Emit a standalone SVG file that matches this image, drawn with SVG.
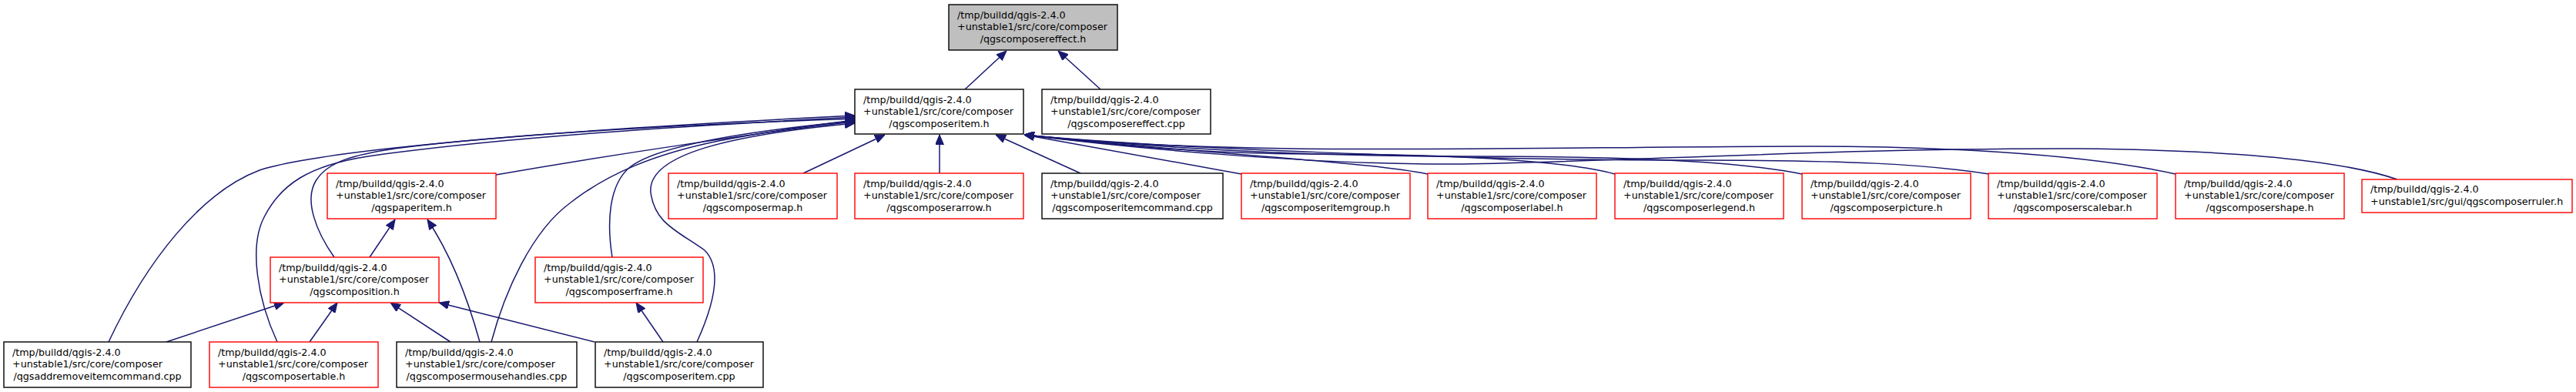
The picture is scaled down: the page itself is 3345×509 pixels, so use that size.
<svg xmlns="http://www.w3.org/2000/svg" width="3345" height="509" viewBox="0 0 3345 509">
<style>
.nb{fill:#fff;stroke:#000;stroke-width:1.4}
.nr{fill:#fff;stroke:#ff0000;stroke-width:1.4}
.ng{fill:#bfbfbf;stroke:#000;stroke-width:1.4}
text{font-family:"DejaVu Sans","Liberation Sans",sans-serif;font-size:12.7px;fill:#000}
.c{text-anchor:middle}
.e{fill:none;stroke:#191970;stroke-width:1.5}
</style>
<defs>
<marker id="ah" markerUnits="userSpaceOnUse" viewBox="0 0 13 11" refX="13" refY="5.5" markerWidth="13" markerHeight="11" orient="auto">
<path d="M0,0 L13,5.5 L0,11 z" fill="#191970" stroke="#191970" stroke-width="1"/>
</marker>
</defs>
<g id="edges">
<path class="e" marker-end="url(#ah)" d="M1253,116 L1307,66"/>
<path class="e" marker-end="url(#ah)" d="M1429,116 L1374,66"/>
<path class="e" marker-end="url(#ah)" d="M1043,225 L1149,175"/>
<path class="e" marker-end="url(#ah)" d="M1220,225 L1220,175"/>
<path class="e" marker-end="url(#ah)" d="M1403,225 L1293,175"/>
<path class="e" marker-end="url(#ah)" d="M1612,226 L1330,175"/>
<path class="e" marker-end="url(#ah)" d="M1854,226 C1760,208 1560,200 1330,175"/>
<path class="e" marker-end="url(#ah)" d="M2097,226 C2040,210 1900,200 1700,200 C1550,200 1420,185 1330,175"/>
<path class="e" marker-end="url(#ah)" d="M2340,226 C2250,208 2100,203 1900,203 C1650,203 1450,187 1330,175"/>
<path class="e" marker-end="url(#ah)" d="M2583,226 C2500,213 2400,208 2200,208 C1900,208 1500,192 1330,175"/>
<path class="e" marker-end="url(#ah)" d="M2825,226 C2700,198 2500,190 2350,190 C2000,190 1600,205 1330,175"/>
<path class="e" marker-end="url(#ah)" d="M3113,233 C3040,208 2900,195 2700,193 C2400,192 2100,210 1900,213 C1700,215 1450,190 1330,175"/>
<path class="e" marker-end="url(#ah)" d="M141,444 C190,340 260,250 337,221 C420,195 700,170 1110,150"/>
<path class="e" marker-end="url(#ah)" d="M360,444 C335,390 322,320 344,280 C365,240 400,215 478,203 C650,178 900,163 1110,152"/>
<path class="e" marker-end="url(#ah)" d="M434,334 C410,300 395,260 410,235 C425,210 460,200 520,192 C700,170 950,160 1110,154"/>
<path class="e" marker-end="url(#ah)" d="M644,227 C800,200 1000,170 1110,158"/>
<path class="e" marker-end="url(#ah)" d="M638,444 C655,380 690,300 741,263 C790,225 850,200 933,183 C1000,170 1060,162 1110,156"/>
<path class="e" marker-end="url(#ah)" d="M795,334 C788,290 790,240 818,217 C850,192 950,172 1110,157"/>
<path class="e" marker-end="url(#ah)" d="M905,444 C925,400 940,350 915,325 C880,300 850,290 845,250 C840,200 950,175 1110,160"/>
<path class="e" marker-end="url(#ah)" d="M480,334 L513,285"/>
<path class="e" marker-end="url(#ah)" d="M623,444 C608,390 585,330 555,285"/>
<path class="e" marker-end="url(#ah)" d="M216,444 L369,393"/>
<path class="e" marker-end="url(#ah)" d="M402,444 L438,393"/>
<path class="e" marker-end="url(#ah)" d="M585,444 L507,393"/>
<path class="e" marker-end="url(#ah)" d="M772,444 L570,393"/>
<path class="e" marker-end="url(#ah)" d="M861,444 L826,393"/>
</g>
<g id="n0"><rect class="ng" x="1232" y="6" width="219" height="59"/><text x="1243" y="23.5">/tmp/buildd/qgis-2.4.0</text><text x="1243" y="39.2">+unstable1/src/core/composer</text><text class="c" x="1341.5" y="54.9">/qgscomposereffect.h</text></g>
<g id="n1"><rect class="nb" x="1110" y="116" width="219" height="58"/><text x="1121" y="133.5">/tmp/buildd/qgis-2.4.0</text><text x="1121" y="149.2">+unstable1/src/core/composer</text><text class="c" x="1219.5" y="164.9">/qgscomposeritem.h</text></g>
<g id="n2"><rect class="nb" x="1353" y="116" width="219" height="58"/><text x="1364" y="133.5">/tmp/buildd/qgis-2.4.0</text><text x="1364" y="149.2">+unstable1/src/core/composer</text><text class="c" x="1462.5" y="164.9">/qgscomposereffect.cpp</text></g>
<g id="n3"><rect class="nr" x="425" y="225" width="219" height="59"/><text x="436" y="242.5">/tmp/buildd/qgis-2.4.0</text><text x="436" y="258.2">+unstable1/src/core/composer</text><text class="c" x="534.5" y="273.9">/qgspaperitem.h</text></g>
<g id="n4"><rect class="nr" x="868" y="225" width="219" height="59"/><text x="879" y="242.5">/tmp/buildd/qgis-2.4.0</text><text x="879" y="258.2">+unstable1/src/core/composer</text><text class="c" x="977.5" y="273.9">/qgscomposermap.h</text></g>
<g id="n5"><rect class="nr" x="1110" y="225" width="219" height="59"/><text x="1121" y="242.5">/tmp/buildd/qgis-2.4.0</text><text x="1121" y="258.2">+unstable1/src/core/composer</text><text class="c" x="1219.5" y="273.9">/qgscomposerarrow.h</text></g>
<g id="n6"><rect class="nb" x="1353" y="225" width="235" height="59"/><text x="1364" y="242.5">/tmp/buildd/qgis-2.4.0</text><text x="1364" y="258.2">+unstable1/src/core/composer</text><text class="c" x="1470.5" y="273.9">/qgscomposeritemcommand.cpp</text></g>
<g id="n7"><rect class="nr" x="1612" y="225" width="219" height="59"/><text x="1623" y="242.5">/tmp/buildd/qgis-2.4.0</text><text x="1623" y="258.2">+unstable1/src/core/composer</text><text class="c" x="1721.5" y="273.9">/qgscomposeritemgroup.h</text></g>
<g id="n8"><rect class="nr" x="1854" y="225" width="219" height="59"/><text x="1865" y="242.5">/tmp/buildd/qgis-2.4.0</text><text x="1865" y="258.2">+unstable1/src/core/composer</text><text class="c" x="1963.5" y="273.9">/qgscomposerlabel.h</text></g>
<g id="n9"><rect class="nr" x="2097" y="225" width="219" height="59"/><text x="2108" y="242.5">/tmp/buildd/qgis-2.4.0</text><text x="2108" y="258.2">+unstable1/src/core/composer</text><text class="c" x="2206.5" y="273.9">/qgscomposerlegend.h</text></g>
<g id="n10"><rect class="nr" x="2340" y="225" width="219" height="59"/><text x="2351" y="242.5">/tmp/buildd/qgis-2.4.0</text><text x="2351" y="258.2">+unstable1/src/core/composer</text><text class="c" x="2449.5" y="273.9">/qgscomposerpicture.h</text></g>
<g id="n11"><rect class="nr" x="2582" y="225" width="219" height="59"/><text x="2593" y="242.5">/tmp/buildd/qgis-2.4.0</text><text x="2593" y="258.2">+unstable1/src/core/composer</text><text class="c" x="2691.5" y="273.9">/qgscomposerscalebar.h</text></g>
<g id="n12"><rect class="nr" x="2825" y="225" width="219" height="59"/><text x="2836" y="242.5">/tmp/buildd/qgis-2.4.0</text><text x="2836" y="258.2">+unstable1/src/core/composer</text><text class="c" x="2934.5" y="273.9">/qgscomposershape.h</text></g>
<g id="n13"><rect class="nr" x="3067" y="233" width="273" height="43"/><text x="3078" y="250.3">/tmp/buildd/qgis-2.4.0</text><text x="3078" y="266">+unstable1/src/gui/qgscomposerruler.h</text></g>
<g id="n14"><rect class="nr" x="351" y="334" width="219" height="59"/><text x="362" y="351.5">/tmp/buildd/qgis-2.4.0</text><text x="362" y="367.2">+unstable1/src/core/composer</text><text class="c" x="460.5" y="382.9">/qgscomposition.h</text></g>
<g id="n15"><rect class="nr" x="695" y="334" width="218" height="59"/><text x="706" y="351.5">/tmp/buildd/qgis-2.4.0</text><text x="706" y="367.2">+unstable1/src/core/composer</text><text class="c" x="804" y="382.9">/qgscomposerframe.h</text></g>
<g id="n16"><rect class="nb" x="5" y="444" width="243" height="59"/><text x="16" y="461.5">/tmp/buildd/qgis-2.4.0</text><text x="16" y="477.2">+unstable1/src/core/composer</text><text class="c" x="126.5" y="492.9">/qgsaddremoveitemcommand.cpp</text></g>
<g id="n17"><rect class="nr" x="272" y="444" width="219" height="59"/><text x="283" y="461.5">/tmp/buildd/qgis-2.4.0</text><text x="283" y="477.2">+unstable1/src/core/composer</text><text class="c" x="381.5" y="492.9">/qgscomposertable.h</text></g>
<g id="n18"><rect class="nb" x="515" y="444" width="234" height="59"/><text x="526" y="461.5">/tmp/buildd/qgis-2.4.0</text><text x="526" y="477.2">+unstable1/src/core/composer</text><text class="c" x="632" y="492.9">/qgscomposermousehandles.cpp</text></g>
<g id="n19"><rect class="nb" x="773" y="444" width="218" height="59"/><text x="784" y="461.5">/tmp/buildd/qgis-2.4.0</text><text x="784" y="477.2">+unstable1/src/core/composer</text><text class="c" x="882" y="492.9">/qgscomposeritem.cpp</text></g>
</svg>
